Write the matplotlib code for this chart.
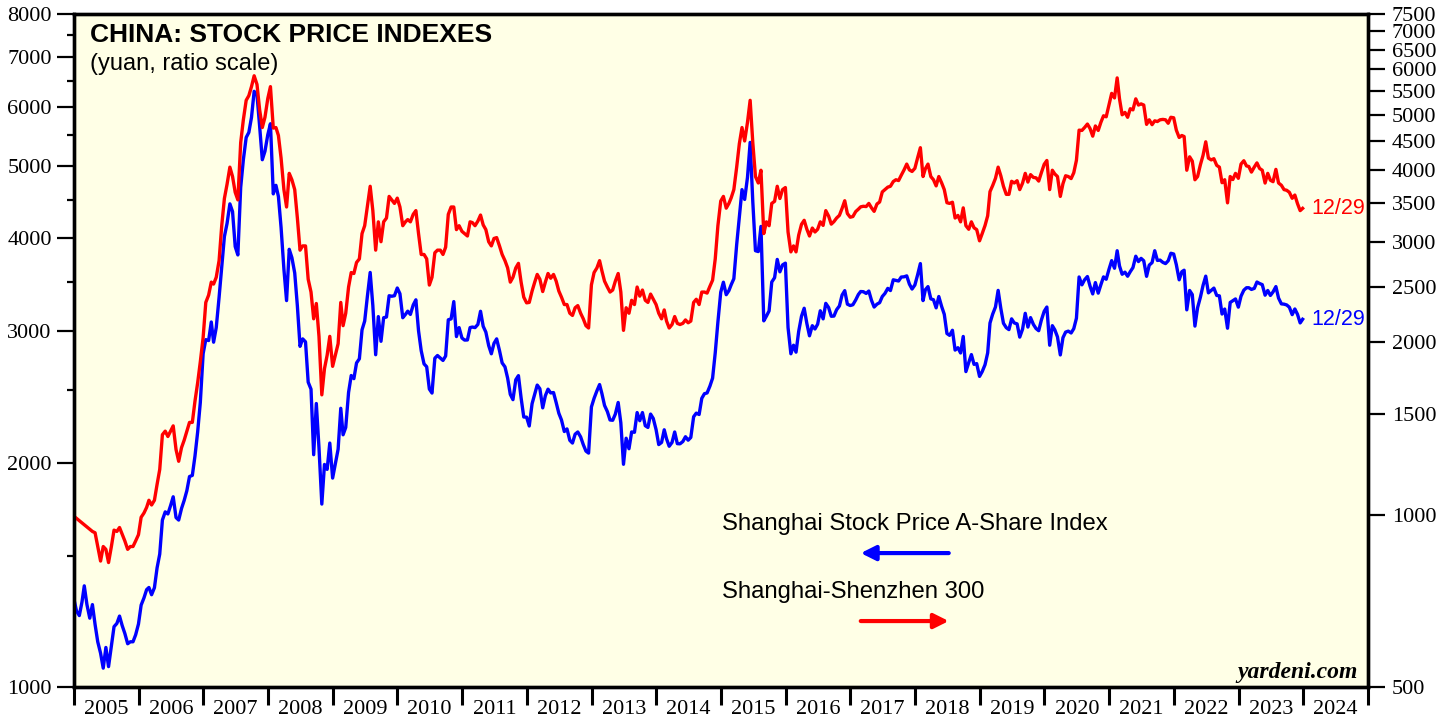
import numpy as np
import pandas as pd
import matplotlib
matplotlib.use('Agg')
import matplotlib.pyplot as plt
import matplotlib.dates as mdates
from matplotlib.ticker import FixedLocator, NullFormatter, FixedFormatter

# semi-monthly readings (15th, month end), one row per year 2005..2023
shanghai_start = 1301   # 2005-01-04
shanghai_a = [
    1265, 1247, 1300, 1367, 1290, 1237, 1290, 1213, 1150, 1110, 1060, 1130, 1065, 1134, 1205, 1217, 1245, 1209, 1180, 1143, 1150, 1150, 1175, 1215,
    1288, 1317, 1351, 1360, 1330, 1359, 1445, 1508, 1675, 1718, 1707, 1751, 1800, 1688, 1675, 1736, 1780, 1834, 1916, 1923, 2042, 2198, 2408, 2801,
    2925, 2917, 3089, 2902, 3036, 3333, 3665, 4022, 4188, 4450, 4345, 3900, 3800, 4681, 5099, 5463, 5549, 5813, 6300, 6234, 5654, 5100, 5235, 5509,
    5700, 4589, 4712, 4552, 4136, 3636, 3300, 3867, 3769, 3594, 3246, 2865, 2932, 2905, 2565, 2510, 2050, 2401, 2094, 1760, 1989, 1959, 2125, 1907,
    1990, 2085, 2366, 2180, 2230, 2485, 2618, 2593, 2722, 2757, 3015, 3098, 3340, 3600, 3250, 2792, 3141, 2910, 3130, 3137, 3350, 3345, 3350, 3431,
    3371, 3130, 3162, 3194, 3162, 3256, 3308, 3006, 2827, 2714, 2690, 2511, 2480, 2762, 2785, 2763, 2743, 2781, 3110, 3119, 3290, 2953, 3036, 2940,
    2921, 2922, 3036, 3041, 3036, 3066, 3193, 3048, 2994, 2872, 2800, 2892, 2932, 2828, 2722, 2689, 2597, 2470, 2430, 2584, 2617, 2443, 2303, 2302,
    2240, 2400, 2471, 2542, 2513, 2369, 2460, 2510, 2481, 2484, 2408, 2330, 2282, 2202, 2220, 2143, 2125, 2184, 2199, 2166, 2115, 2073, 2060, 2376,
    2440, 2497, 2546, 2477, 2387, 2342, 2282, 2280, 2324, 2409, 2262, 1990, 2157, 2088, 2199, 2197, 2335, 2277, 2335, 2242, 2230, 2324, 2293, 2215,
    2115, 2129, 2214, 2153, 2104, 2129, 2199, 2121, 2120, 2135, 2167, 2144, 2162, 2305, 2331, 2321, 2440, 2475, 2481, 2534, 2597, 2809, 3089, 3387,
    3493, 3361, 3403, 3466, 3531, 3924, 4276, 4650, 4511, 4829, 5380, 4478, 3850, 3840, 4150, 3100, 3146, 3197, 3495, 3542, 3748, 3607, 3685, 3705,
    3036, 2800, 2875, 2814, 3000, 3145, 3223, 3076, 2960, 3054, 3023, 3068, 3198, 3119, 3272, 3230, 3144, 3146, 3208, 3246, 3357, 3403, 3264, 3250,
    3258, 3307, 3363, 3394, 3392, 3374, 3399, 3303, 3235, 3264, 3279, 3342, 3374, 3427, 3404, 3519, 3512, 3506, 3549, 3552, 3562, 3473, 3420, 3463,
    3570, 3700, 3300, 3412, 3446, 3318, 3309, 3227, 3342, 3241, 3163, 2981, 2964, 3011, 2832, 2853, 2807, 2954, 2650, 2725, 2793, 2710, 2716, 2611,
    2650, 2707, 2808, 3079, 3164, 3236, 3406, 3223, 3077, 3035, 3017, 3119, 3080, 3071, 2948, 3022, 3173, 3041, 3131, 3066, 3027, 3007, 3107, 3193,
    3235, 2875, 3054, 3015, 2950, 2790, 2943, 2994, 3003, 2986, 3026, 3125, 3550, 3465, 3519, 3555, 3450, 3369, 3489, 3377, 3466, 3551, 3525, 3636,
    3734, 3647, 3850, 3674, 3580, 3603, 3558, 3609, 3654, 3785, 3723, 3760, 3732, 3557, 3682, 3711, 3850, 3736, 3740, 3714, 3700, 3732, 3820, 3811,
    3687, 3519, 3608, 3625, 3207, 3405, 3362, 3050, 3229, 3336, 3460, 3559, 3380, 3406, 3430, 3353, 3349, 3166, 3215, 3030, 3281, 3299, 3317, 3234,
    3345, 3408, 3434, 3434, 3416, 3427, 3495, 3479, 3467, 3356, 3405, 3353, 3390, 3446, 3326, 3267, 3264, 3256, 3233, 3160, 3216, 3163, 3080, 3115,
]

nan = np.nan
csi300_start = 992
csi300 = [
    nan, nan, nan, nan, nan, nan, 935, 930, 880, 830, 880, 870, 825, 880, 940, 935, 950, 925, 900, 870, 880, 880, 900, 923,
    990, 1007, 1030, 1060, 1040, 1060, 1130, 1200, 1380, 1400, 1370, 1400, 1430, 1300, 1240, 1310, 1350, 1400, 1450, 1450, 1580, 1700, 1850, 2041,
    2350, 2420, 2550, 2530, 2600, 2780, 3200, 3570, 3780, 4050, 3900, 3660, 3550, 4470, 4900, 5300, 5400, 5600, 5850, 5650, 5100, 4750, 4950, 5338,
    5600, 4740, 4750, 4600, 4200, 3700, 3450, 3950, 3850, 3700, 3300, 2900, 2950, 2950, 2580, 2450, 2200, 2340, 2050, 1620, 1800, 1900, 2050, 1817,
    1900, 1990, 2350, 2140, 2250, 2500, 2650, 2640, 2760, 2800, 3100, 3200, 3450, 3750, 3400, 2900, 3250, 3000, 3250, 3300, 3600, 3550, 3500, 3575,
    3450, 3200, 3250, 3280, 3250, 3350, 3400, 3100, 2850, 2850, 2800, 2520, 2600, 2870, 2900, 2900, 2850, 2935, 3350, 3450, 3450, 3150, 3200, 3128,
    3100, 3070, 3250, 3240, 3200, 3260, 3340, 3210, 3150, 3000, 2950, 3040, 3050, 2950, 2850, 2780, 2700, 2550, 2600, 2700, 2750, 2550, 2400, 2346,
    2350, 2460, 2550, 2630, 2580, 2455, 2550, 2640, 2590, 2630, 2560, 2460, 2400, 2330, 2330, 2250, 2230, 2300, 2320, 2250, 2200, 2140, 2120, 2522,
    2650, 2700, 2780, 2670, 2560, 2500, 2450, 2470, 2560, 2640, 2450, 2100, 2300, 2250, 2370, 2330, 2500, 2410, 2470, 2370, 2350, 2430, 2380, 2330,
    2250, 2200, 2280, 2180, 2120, 2150, 2220, 2160, 2150, 2160, 2190, 2165, 2180, 2350, 2380, 2330, 2450, 2450, 2440, 2508, 2570, 2800, 3200, 3533,
    3600, 3434, 3500, 3580, 3700, 4050, 4450, 4750, 4500, 4850, 5300, 4470, 3900, 3800, 4000, 3100, 3250, 3200, 3500, 3530, 3750, 3570, 3700, 3731,
    3120, 2880, 2950, 2880, 3080, 3218, 3270, 3156, 3070, 3170, 3120, 3154, 3250, 3204, 3400, 3326, 3220, 3253, 3300, 3336, 3430, 3538, 3360, 3311,
    3320, 3387, 3420, 3452, 3460, 3456, 3500, 3439, 3390, 3492, 3520, 3666, 3700, 3737, 3750, 3822, 3850, 3837, 3920, 4006, 4100, 4006, 3980, 4031,
    4200, 4380, 3900, 4023, 4100, 3899, 3850, 3756, 3900, 3802, 3700, 3510, 3500, 3517, 3300, 3335, 3250, 3438, 3200, 3154, 3250, 3173, 3150, 3011,
    3100, 3202, 3330, 3670, 3760, 3872, 4050, 3913, 3750, 3630, 3630, 3826, 3800, 3835, 3700, 3799, 3950, 3814, 3930, 3886, 3880, 3829, 3960, 4097,
    4160, 3700, 4000, 3940, 3900, 3600, 3790, 3912, 3900, 3868, 3960, 4164, 4700, 4695, 4750, 4817, 4730, 4588, 4780, 4695, 4850, 4980, 4960, 5211,
    5450, 5351, 5800, 5336, 5000, 5048, 4950, 5123, 5100, 5331, 5200, 5224, 5200, 4811, 4900, 4805, 4880, 4866, 4900, 4908, 4900, 4832, 4950, 4940,
    4700, 4564, 4600, 4581, 4000, 4222, 4150, 3850, 3900, 4091, 4250, 4485, 4200, 4170, 4190, 4079, 4050, 3804, 3850, 3508, 3900, 3853, 3950, 3872,
    4100, 4156, 4070, 4061, 3970, 4051, 4120, 4029, 4000, 3799, 3950, 3842, 3820, 4014, 3800, 3765, 3700, 3690, 3660, 3573, 3620, 3497, 3400, 3431,
]

left_ticks = [1000, 2000, 3000, 4000, 5000, 6000, 7000, 8000]
left_minor = [1500, 2500, 3500, 4500, 5500, 6500, 7500]
right_ticks = [500, 1000, 1500, 2000, 2500, 3000, 3500, 4000, 4500, 5000, 5500, 6000, 6500, 7000, 7500]
years = list(range(2005, 2025))


def semi_month_dates(y0, y1):
    out = []
    for y in range(y0, y1 + 1):
        for m in range(1, 13):
            out.append(pd.Timestamp(y, m, 15))
            out.append(pd.Timestamp(y, m, 1) + pd.offsets.MonthEnd(0))
    return out


dates = [pd.Timestamp('2005-01-04')] + semi_month_dates(2005, 2023)
dates[-1] = pd.Timestamp('2023-12-29')

blue_s = pd.Series([shanghai_start] + shanghai_a, index=dates, dtype=float)
red_s = pd.Series([csi300_start] + csi300, index=dates, dtype=float).dropna()

BLUE = '#0000FF'
RED = '#FF0000'
SANS = 'Liberation Sans'
plt.rcParams['font.family'] = 'Liberation Serif'

fig = plt.figure(figsize=(14.51, 7.19), dpi=100)
ax = fig.add_axes([0.0510, 0.0445, 0.8918, 0.9360])
ax.set_facecolor('#FFFFE6')
ax2 = ax.twinx()

ax.plot(blue_s.index, blue_s.values, color=BLUE, lw=2.4, zorder=3)
ax2.plot(red_s.index, red_s.values, color=RED, lw=2.4, zorder=2)

# left axis (Shanghai A-share)
ax.set_yscale('log')
ax.set_ylim(1000, 8000)
ax.yaxis.set_major_locator(FixedLocator(left_ticks))
ax.yaxis.set_major_formatter(FixedFormatter([str(v) for v in left_ticks]))
ax.yaxis.set_minor_locator(FixedLocator(left_minor))
ax.yaxis.set_minor_formatter(NullFormatter())
ax.tick_params(axis='y', which='major', length=12, width=1.6, labelsize=16, pad=4)
ax.tick_params(axis='y', which='minor', length=5, width=1.6)

# right axis (CSI 300)
ax2.set_yscale('log')
ax2.set_ylim(500, 7500)
ax2.yaxis.set_major_locator(FixedLocator(right_ticks))
ax2.yaxis.set_major_formatter(FixedFormatter([str(v) for v in right_ticks]))
ax2.yaxis.set_minor_locator(FixedLocator([]))
ax2.tick_params(axis='y', which='major', length=12, width=1.6, labelsize=16, pad=5)

# x axis: ticks at year starts, labels centred mid-year
ax.set_xlim(pd.Timestamp('2005-01-01'), pd.Timestamp('2025-01-01'))
ax.xaxis.set_major_locator(mdates.YearLocator())
ax.xaxis.set_major_formatter(NullFormatter())
ax.xaxis.set_minor_locator(FixedLocator([mdates.date2num(pd.Timestamp(y, 7, 2)) for y in years]))
ax.xaxis.set_minor_formatter(FixedFormatter([str(y) for y in years]))
ax.tick_params(axis='x', which='major', length=13, width=2.2, direction='out')
ax.tick_params(axis='x', which='minor', length=0, labelsize=16, pad=9)

for a in (ax, ax2):
    for sp in a.spines.values():
        sp.set_linewidth(2.4)
        sp.set_color('black')

# texts
ax.text(0.0124, 0.969, 'CHINA: STOCK PRICE INDEXES', transform=ax.transAxes,
        fontsize=19, fontweight='bold', family=SANS, va='center', ha='left')
ax.text(0.0124, 0.926, '(yuan, ratio scale)', transform=ax.transAxes,
        fontsize=17, family=SANS, va='center', ha='left')

ax.text(0.5008, 0.242, 'Shanghai Stock Price A-Share Index', transform=ax.transAxes,
        fontsize=17.2, family=SANS, va='center', ha='left')
ax.text(0.5008, 0.141, 'Shanghai-Shenzhen 300', transform=ax.transAxes,
        fontsize=17.2, family=SANS, va='center', ha='left')

ax.annotate('', xy=(0.608, 0.199), xytext=(0.676, 0.199), xycoords='axes fraction',
            arrowprops=dict(arrowstyle='-|>', color=BLUE, lw=3, mutation_scale=22,
                            shrinkA=0, shrinkB=0))
ax.annotate('', xy=(0.676, 0.098), xytext=(0.608, 0.098), xycoords='axes fraction',
            arrowprops=dict(arrowstyle='-|>', color=RED, lw=3, mutation_scale=22,
                            shrinkA=0, shrinkB=0))

ax.annotate('12/29', xy=(blue_s.index[-1], blue_s.values[-1]), xytext=(6, 0),
            textcoords='offset points', color=BLUE, fontsize=15.5, family=SANS, va='center')
ax2.annotate('12/29', xy=(red_s.index[-1], red_s.values[-1]), xytext=(6, 0),
             textcoords='offset points', color=RED, fontsize=15.5, family=SANS, va='center')

ax.text(0.992, 0.022, 'yardeni.com', transform=ax.transAxes, fontsize=17,
        fontweight='bold', fontstyle='italic', ha='right', va='center')

fig.savefig('out.png', dpi=100)
